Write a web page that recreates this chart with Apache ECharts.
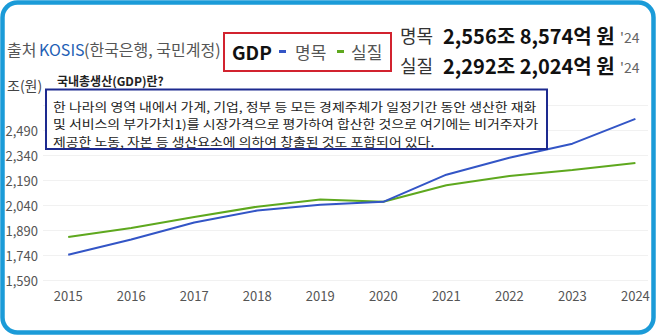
<!DOCTYPE html>
<html><head><meta charset="utf-8">
<script src="https://cdn.jsdelivr.net/npm/echarts@6/dist/echarts.min.js"></script>
<style>html,body{margin:0;padding:0;background:#fff}#c{width:658px;height:336px}</style>
</head><body><div id="c"></div>
<script>
const years = [2015, 2016, 2017, 2018, 2019, 2020, 2021, 2022, 2023, 2024];
const nominal = [1741, 1833, 1935, 2007, 2041, 2059, 2222, 2324, 2408, 2557];
const real = [1848, 1902, 1968, 2030, 2073, 2059, 2158, 2214, 2250, 2292];
const yTicks = [1590, 1740, 1890, 2040, 2190, 2340, 2490];
const source = ['출처', 'KOSIS', '(한국은행, 국민계정)'];
const legendNames = ['명목', '실질'];
const headline = [['명목', '2,556조 8,574억 원', "'24"], ['실질', '2,292조 2,024억 원', "'24"]];
const unitLabel = '조(원)';
const boxTitle = '국내총생산(GDP)란?';
const boxLines = [
  '한 나라의 영역 내에서 가계, 기업, 정부 등 모든 경제주체가 일정기간 동안 생산한 재화',
  '및 서비스의 부가가치1)를 시장가격으로 평가하여 합산한 것으로 여기에는 비거주자가',
  '제공한 노동, 자본 등 생산요소에 의하여 창출된 것도 포함되어 있다.'
];

const F = '"Noto Sans CJK KR", "Noto Sans", sans-serif';
const BLUE = '#3355c6', GREEN = '#5ea81e';
const chart = echarts.init(document.getElementById('c'), null, {renderer: 'svg'});

function txt(x, y, text, font, fill, z, sx) {
  return {type: 'text', x: x, y: y, z: z || 10, scaleX: sx || 1,
    style: {text: text, font: font + ' ' + F, fill: fill, verticalAlign: 'middle', align: 'left'}};
}

const graphics = [
  {type: 'rect', shape: {x: 2.5, y: 2.5, width: 651, height: 330, r: 15}, style: {fill: 'none', stroke: '#1b9bd8', lineWidth: 4.5}, z: 100},
  // source
  txt(7, 49, source[0], '16px', '#555'),
  txt(39, 49, source[1], '16px', '#1f5fb5'),
  txt(84, 49, source[2], '16px', '#555'),
  // legend box
  {type: 'rect', shape: {x: 224, y: 33, width: 167, height: 38}, style: {fill: 'none', stroke: '#d2232f', lineWidth: 2}},
  txt(232, 51, 'GDP', 'bold 19px', '#111'),
  {type: 'rect', shape: {x: 279, y: 50, width: 7, height: 3}, style: {fill: BLUE}},
  txt(295, 51, legendNames[0], '17px', '#555'),
  {type: 'rect', shape: {x: 337, y: 50, width: 7, height: 3}, style: {fill: GREEN}},
  txt(351, 51, legendNames[1], '17px', '#555'),
  // headline
  txt(400, 35, headline[0][0], '18px', '#333'),
  txt(443, 35, headline[0][1], 'bold 20px', '#111'),
  txt(620, 37, headline[0][2], '14px', '#666'),
  txt(400, 65, headline[1][0], '18px', '#333'),
  txt(443, 65, headline[1][1], 'bold 20px', '#111'),
  txt(620, 67, headline[1][2], '14px', '#666'),
  // unit
  txt(7, 85, unitLabel, '14px', '#444'),
  // definition box
  txt(57, 80, boxTitle, 'bold 12px', '#222', 50),
  {type: 'rect', shape: {x: 46, y: 89.5, width: 501, height: 59.5}, style: {fill: '#fff', stroke: '#1d2a8f', lineWidth: 2}, z: 50},
  txt(53, 106.5, boxLines[0], '12px', '#222', 51, 1.16),
  txt(53, 124, boxLines[1], '12px', '#222', 51, 1.16),
  txt(53, 141.5, boxLines[2], '12px', '#222', 51, 1.16)
];

chart.setOption({
  animation: false,
  backgroundColor: '#fff',
  textStyle: {fontFamily: F},
  grid: {left: 43, right: 10, top: 105, bottom: 56},
  xAxis: {
    type: 'value', min: 2014.6, max: 2024.2,
    axisLine: {show: false}, axisTick: {show: false}, splitLine: {show: false},
    axisLabel: {customValues: years, formatter: v => String(v), color: '#555', fontSize: 13, margin: 9}
  },
  yAxis: {
    type: 'value', min: 1590, max: 2640, interval: 150,
    axisLine: {show: false}, axisTick: {show: false},
    splitLine: {lineStyle: {color: '#f1f1f1', width: 1}},
    axisLabel: {showMaxLabel: false, color: '#555', fontSize: 13, margin: 5,
      formatter: v => yTicks.indexOf(v) >= 0 ? v.toLocaleString('en-US') : ''}
  },
  series: [
    {name: legendNames[0], type: 'line', data: years.map((y, i) => [y, nominal[i]]), symbol: 'none', lineStyle: {color: BLUE, width: 2}, z: 3},
    {name: legendNames[1], type: 'line', data: years.map((y, i) => [y, real[i]]), symbol: 'none', lineStyle: {color: GREEN, width: 2}, z: 2}
  ],
  graphic: graphics
});
</script></body></html>
